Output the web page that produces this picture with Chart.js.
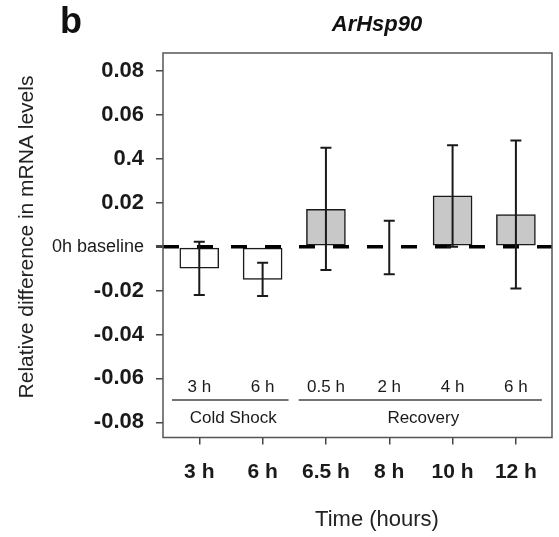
<!DOCTYPE html>
<html><head><meta charset="utf-8">
<script src="https://cdn.jsdelivr.net/npm/chart.js@4/dist/chart.umd.min.js"></script>
<style>html,body{margin:0;padding:0;background:#fff;overflow:hidden}#wrap{width:559px;height:537px}</style>
</head><body><div id="wrap"><canvas id="c" width="559" height="537"></canvas></div>
<script>
// ---- data ----
const categories = ['3 h', '6 h', '6.5 h', '8 h', '10 h', '12 h'];
const phaseLabels = ['3 h', '6 h', '0.5 h', '2 h', '4 h', '6 h'];
const phaseOf = ['Cold Shock', 'Cold Shock', 'Recovery', 'Recovery', 'Recovery', 'Recovery'];
const groupNames = ['Cold Shock', 'Recovery'];
const values = [-0.0098, -0.0149, 0.0170, 0.0, 0.0231, 0.0146];
const errHigh = [0.0023, -0.0073, 0.0451, 0.0118, 0.0462, 0.0483];
const errLow = [-0.0220, -0.0225, -0.0106, -0.0126, 0.0, -0.0190];
const yTickValues = [0.08, 0.06, 0.04, 0.02, 0, -0.02, -0.04, -0.06, -0.08];
const yTickLabels = ['0.08', '0.06', '0.4', '0.02', '0h baseline', '-0.02', '-0.04', '-0.06', '-0.08'];
const titleText = 'ArHsp90';
const panelLetter = 'b';
const yTitle = 'Relative difference in mRNA levels';
const xTitle = 'Time (hours)';

const FONT = "'Liberation Sans', Arial, Helvetica, sans-serif";
const phaseColor = {'Cold Shock': '#ffffff', 'Recovery': '#c8c8c8'};

const deco = {
  id: 'deco',
  afterDatasetsDraw(chart) {
    const {ctx, scales: {x, y}, chartArea: a} = chart;
    ctx.save();
    // error bars
    ctx.strokeStyle = '#1a1a1a';
    ctx.lineWidth = 2;
    values.forEach((v, i) => {
      const px = x.getPixelForValue(i);
      const hi = y.getPixelForValue(errHigh[i]);
      const lo = y.getPixelForValue(errLow[i]);
      ctx.beginPath();
      ctx.moveTo(px, hi); ctx.lineTo(px, lo);
      ctx.moveTo(px - 5.5, hi); ctx.lineTo(px + 5.5, hi);
      ctx.moveTo(px - 5.5, lo); ctx.lineTo(px + 5.5, lo);
      ctx.stroke();
    });
    // frame
    ctx.strokeStyle = '#555';
    ctx.lineWidth = 1.5;
    ctx.strokeRect(a.left, a.top, a.right - a.left, a.bottom - a.top);
    // phase labels
    ctx.fillStyle = '#1a1a1a';
    ctx.font = '17px ' + FONT;
    ctx.textAlign = 'center';
    ctx.textBaseline = 'alphabetic';
    phaseLabels.forEach((t, i) => ctx.fillText(t, x.getPixelForValue(i), 391.5));
    groupNames.forEach(g => {
      const idx = phaseOf.map((p, i) => p === g ? i : -1).filter(i => i >= 0);
      const x0 = x.getPixelForValue(idx[0] - 0.43);
      const x1 = x.getPixelForValue(idx[idx.length - 1] + 0.41);
      ctx.strokeStyle = '#444';
      ctx.lineWidth = 1.5;
      ctx.beginPath(); ctx.moveTo(x0, 400); ctx.lineTo(x1, 400); ctx.stroke();
      ctx.fillText(g, (x0 + x1) / 2 + 3, 423);
    });
    ctx.restore();
  },
  afterDraw(chart) {
    const {ctx} = chart;
    ctx.save();
    ctx.fillStyle = '#111';
    ctx.textAlign = 'center';
    ctx.textBaseline = 'alphabetic';
    ctx.font = 'bold 36px ' + FONT;
    ctx.fillText(panelLetter, 71, 33);
    ctx.font = 'italic bold 22px ' + FONT;
    ctx.fillText(titleText, 377, 31);
    ctx.font = '22px ' + FONT;
    ctx.fillStyle = '#222';
    ctx.fillText(xTitle, 377, 526);
    ctx.translate(33, 237);
    ctx.rotate(-Math.PI / 2);
    ctx.font = '21px ' + FONT;
    ctx.fillText(yTitle, 0, 0);
    ctx.restore();
  }
};

new Chart(document.getElementById('c'), {
  type: 'bar',
  data: {
    datasets: [
      {
        type: 'line',
        data: [{x: -0.573, y: 0}, {x: 5.57, y: 0}],
        borderColor: '#000',
        borderWidth: 3.5,
        borderDash: [16, 18],
        borderCapStyle: 'butt',
        pointRadius: 0,
        order: 0
      },
      {
        data: values.map((v, i) => ({x: i, y: v})),
        backgroundColor: phaseOf.map(p => phaseColor[p]),
        borderColor: '#1a1a1a',
        borderWidth: 1.5,
        borderSkipped: false,
        barThickness: 39,
        order: 1
      }
    ]
  },
  options: {
    responsive: false,
    animation: false,
    devicePixelRatio: 1,
    layout: {padding: {left: 0, right: 7, top: 53, bottom: 0}},
    plugins: {legend: {display: false}, tooltip: {enabled: false}, title: {display: false}},
    scales: {
      x: {
        type: 'linear',
        offset: false,
        min: -0.573,
        max: 5.57,
        afterBuildTicks: s => { s.ticks = categories.map((c, i) => ({value: i})); },
        afterFit: s => { s.height = 99.5; },
        ticks: {
          callback: (v) => categories[v],
          font: {family: FONT, size: 21, weight: 'bold'},
          color: '#1a1a1a',
          padding: 15,
          maxRotation: 0,
          autoSkip: false
        },
        grid: {offset: false, drawOnChartArea: false, drawTicks: true, tickLength: 7, color: '#444', lineWidth: 1.5},
        border: {display: false}
      },
      y: {
        type: 'linear',
        min: -0.0869,
        max: 0.0882,
        afterBuildTicks: s => { s.ticks = yTickValues.map(v => ({value: v})); },
        afterFit: s => { s.width = 163; },
        ticks: {
          callback: (v) => yTickLabels[yTickValues.indexOf(v)],
          font: (c) => c.tick && c.tick.value === 0
            ? {family: FONT, size: 18, weight: 'normal'}
            : {family: FONT, size: 22, weight: 'bold'},
          color: '#1a1a1a',
          padding: 12
        },
        grid: {
          drawOnChartArea: false, drawTicks: true, tickLength: 7, color: '#444',
          lineWidth: (c) => c.tick && c.tick.value === 0 ? 3 : 1.5
        },
        border: {display: false}
      }
    }
  },
  plugins: [deco]
});
</script>
</body></html>
